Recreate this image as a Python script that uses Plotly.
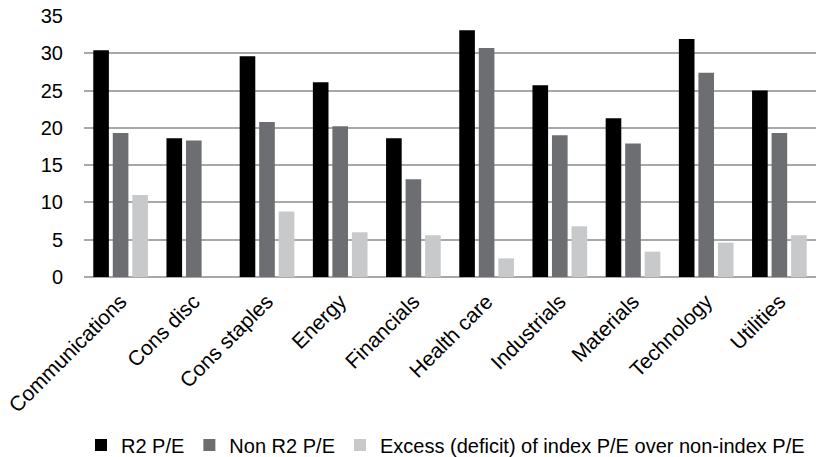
import plotly.graph_objects as go

categories = ["Communications", "Cons disc", "Cons staples", "Energy", "Financials",
              "Health care", "Industrials", "Materials", "Technology", "Utilities"]
r2_pe = [30.4, 18.6, 29.6, 26.1, 18.6, 33.1, 25.7, 21.3, 31.9, 25.0]
non_r2_pe = [19.3, 18.3, 20.8, 20.2, 13.1, 30.7, 19.0, 17.9, 27.4, 19.3]
excess_pe = [11.0, 0.0, 8.8, 6.0, 5.6, 2.5, 6.8, 3.4, 4.6, 5.6]
y_ticks = [0, 5, 10, 15, 20, 25, 30, 35]

series_names = ["R2 P/E", "Non R2 P/E", "Excess (deficit) of index P/E over non-index P/E"]
colors = ["#000000", "#6d6e71", "#c8c9cb"]

FONT = "Liberation Sans, Arial, Helvetica, sans-serif"

fig = go.Figure()
for name, vals, col in zip(series_names, [r2_pe, non_r2_pe, excess_pe], colors):
    fig.add_trace(go.Bar(x=categories, y=vals, name=name, marker_color=col,
                         marker_line_width=0))

fig.update_layout(
    width=825, height=457,
    margin=dict(l=84, r=9, t=16, b=180, autoexpand=False),
    paper_bgcolor="white", plot_bgcolor="white",
    barmode="group", bargap=0.2, bargroupgap=0.2,
    font=dict(family=FONT, size=20, color="#000000"),
    showlegend=True,
    legend=dict(orientation="h", xref="container", yref="container",
                x=0.54, xanchor="center", y=0.026, yanchor="middle",
                font=dict(size=20), itemwidth=30, traceorder="normal"),
)
fig.update_yaxes(range=[0, 35], tickvals=y_ticks, showgrid=True, gridcolor="#a8a8a8",
                 gridwidth=1.5, zeroline=True, zerolinecolor="#a8a8a8", zerolinewidth=1.5,
                 ticks="outside", ticklen=16, tickcolor="rgba(0,0,0,0)",
                 tickfont=dict(size=20), showline=False)
fig.update_xaxes(tickangle=-45, tickfont=dict(size=21), showgrid=False, showline=False,
                 ticks="outside", ticklen=3, tickcolor="rgba(0,0,0,0)")

fig.write_html("out.html", config={"displayModeBar": False},
               post_script="document.body.style.margin='0';")
